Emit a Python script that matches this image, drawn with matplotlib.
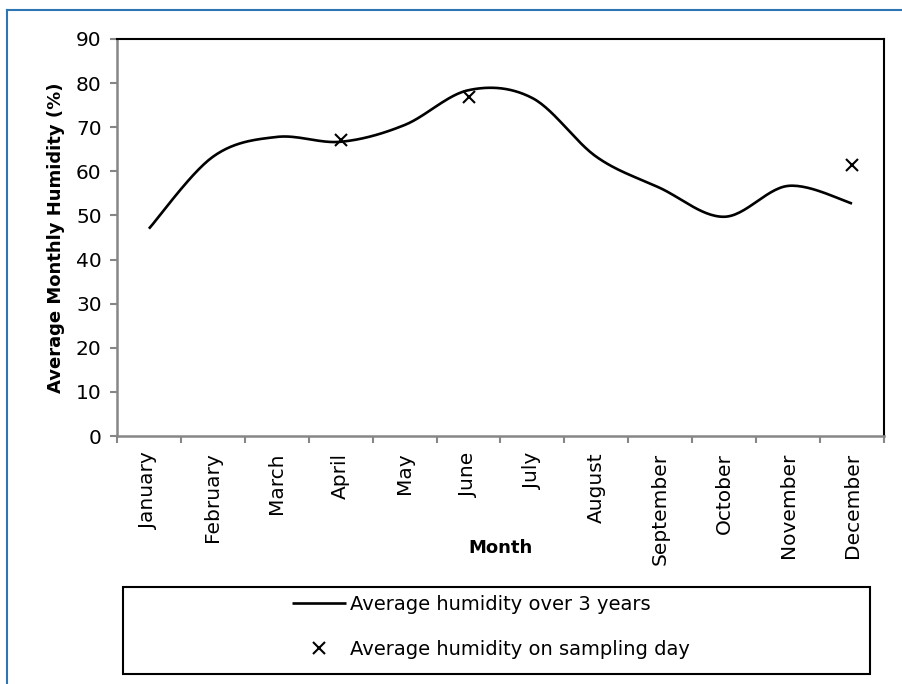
import numpy as np
import matplotlib.pyplot as plt
from matplotlib.lines import Line2D
from matplotlib.patches import Rectangle

plt.rcParams['font.family'] = ['DejaVu Sans']

months = ["January", "February", "March", "April", "May", "June", "July",
          "August", "September", "October", "November", "December"]
avg_3yr = [47.0, 63.3, 67.8, 66.7, 70.5, 78.4, 76.6, 63.3, 56.2, 49.7, 56.7, 52.7]
sample_months = ["April", "June", "December"]
sample_vals = [67.1, 76.8, 61.4]


def smooth(xs, ys, n=30):
    # excel-like smoothed line (catmull-rom as bezier)
    pts = np.column_stack([xs, ys]).astype(float)
    out = [pts[0]]
    for i in range(len(pts) - 1):
        p0 = pts[max(i - 1, 0)]
        p1 = pts[i]
        p2 = pts[i + 1]
        p3 = pts[min(i + 2, len(pts) - 1)]
        c1 = p1 + (p2 - p0) / 6
        c2 = p2 - (p3 - p1) / 6
        t = np.linspace(0, 1, n)[1:, None]
        seg = ((1 - t) ** 3 * p1 + 3 * (1 - t) ** 2 * t * c1
               + 3 * (1 - t) * t ** 2 * c2 + t ** 3 * p2)
        out.extend(seg)
    out = np.array(out)
    return out[:, 0], out[:, 1]


fig = plt.figure(figsize=(9.02, 6.84), dpi=100)
ax = fig.add_axes([117 / 902, 1 - 436 / 684, 767 / 902, 397 / 684])

x = np.arange(len(months))
sx, sy = smooth(x, avg_3yr)
line, = ax.plot(sx, sy, color="black", lw=1.9, solid_capstyle="butt")
xi = [months.index(m) for m in sample_months]
pts, = ax.plot(xi, sample_vals, ls="none", marker="x", color="black",
               ms=8, mew=1.5)

ax.set_xlim(-0.5, len(months) - 0.5)
ax.set_ylim(0, 90)
ax.set_yticks(range(0, 91, 10))
ax.set_xticks(np.arange(-0.5, len(months), 1.0))
ax.set_xticklabels([])
ax.set_xticks(x, minor=True)
ax.set_xticklabels(months, minor=True, rotation=90, va="top", ha="center")
ax.tick_params(axis="x", which="minor", length=0, pad=12, labelsize=14.5)
ax.tick_params(axis="x", which="major", length=5, width=1.5, color="#868686")
ax.tick_params(axis="y", length=5, width=1.5, color="#868686", labelsize=14.5, pad=6)

for s in ["left", "bottom"]:
    ax.spines[s].set_color("#868686")
    ax.spines[s].set_linewidth(1.8)
for s in ["top", "right"]:
    ax.spines[s].set_color("black")
    ax.spines[s].set_linewidth(1.5)

ax.set_ylabel("Average Monthly Humidity (%)", fontsize=13, fontweight="bold", labelpad=8)
fig.text(501 / 902, 1 - 548 / 684, "Month", fontsize=13, fontweight="bold",
         ha="center", va="center")

# legend box
fig.add_artist(Rectangle((123 / 902, 1 - 674 / 684), 747 / 902, 87 / 684,
                         transform=fig.transFigure, fill=False, lw=1.5,
                         edgecolor="black"))
fig.legend([line, pts], ["Average humidity over 3 years",
                         "Average humidity on sampling day"],
           loc="upper left", bbox_to_anchor=(292 / 902, 1 - 595 / 684),
           frameon=False, fontsize=14, handlelength=2.8, handletextpad=0.2,
           labelspacing=1.35, borderpad=0, borderaxespad=0)

# blue page frame
fig.add_artist(Line2D([7 / 902, 1], [1 - 10 / 684, 1 - 10 / 684],
                      transform=fig.transFigure, color="#2E75B6", lw=1.5))
fig.add_artist(Line2D([7 / 902, 7 / 902], [0, 1 - 10 / 684],
                      transform=fig.transFigure, color="#2E75B6", lw=1.5))

fig.savefig("out.png", dpi=100)
